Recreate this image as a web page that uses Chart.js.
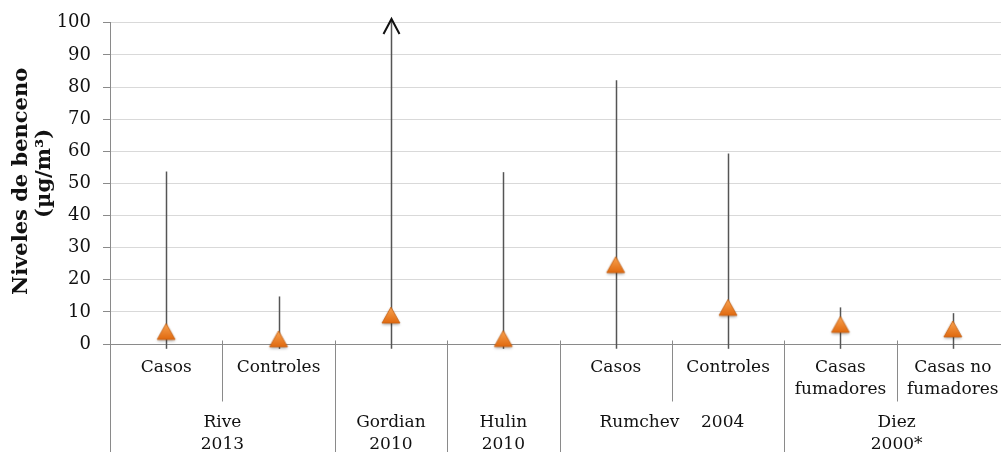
<!DOCTYPE html>
<html lang="es">
<head>
<meta charset="utf-8">
<title>Niveles de benceno</title>
<script src="https://cdn.jsdelivr.net/npm/chart.js@4.4.1/dist/chart.umd.min.js"></script>
<style>
  html, body { margin: 0; padding: 0; background: #ffffff; overflow: hidden; }
  canvas { display: block; background: #ffffff; }
</style>
</head>
<body>
<canvas id="chart" width="1009" height="452"></canvas>
<script>
// Study subgroups (first row of the category axis)
const categories = ['Casos', 'Controles', '', '', 'Casos', 'Controles', 'Casas\nfumadores', 'Casas no\nfumadores'];
// Studies (second row), each spanning a number of subgroups
const groupLabels = ['Rive\n2013', 'Gordian\n2010', 'Hulin\n2010', 'Rumchev    2004', 'Diez\n2000*'];
const groupSpans = [2, 1, 1, 2, 2];

// Benzene levels (µg/m³): central value, range high and range low
const central = [3.9, 1.6, 9.0, 1.7, 24.7, 11.4, 6.1, 4.7];
const high = [53.7, 14.8, 101.2, 53.5, 82.1, 59.3, 11.4, 9.6];
const low = [-1.5, -1.5, -1.5, -1.5, -1.5, -1.5, -1.5, -1.5];

const yTicks = [0, 10, 20, 30, 40, 50, 60, 70, 80, 90, 100];

const FONT = '"DejaVu Serif", "Liberation Serif", serif';
const TEXT = '#111111';
const AXIS = '#8a8a8a';
const GRID = '#d9d9d9';

// Shaded orange triangle marker
function triangleSprite() {
  const c = document.createElement('canvas');
  c.width = 26; c.height = 26;
  const g = c.getContext('2d');
  const w = 18, h = 16, cx = 13, cy = 13;
  g.shadowColor = 'rgba(0,0,0,0.35)';
  g.shadowBlur = 3;
  g.shadowOffsetY = 1.5;
  const grad = g.createLinearGradient(0, cy - h / 2, 0, cy + h / 2);
  grad.addColorStop(0, '#F9A452');
  grad.addColorStop(1, '#E0690F');
  g.beginPath();
  g.moveTo(cx, cy - h / 2);
  g.lineTo(cx + w / 2, cy + h / 2);
  g.lineTo(cx - w / 2, cy + h / 2);
  g.closePath();
  g.fillStyle = grad;
  g.fill();
  g.shadowColor = 'transparent';
  g.strokeStyle = '#C75E0E';
  g.lineWidth = 0.8;
  g.stroke();
  return c;
}

function seg(ctx, x1, y1, x2, y2) {
  ctx.beginPath();
  ctx.moveTo(x1, y1);
  ctx.lineTo(x2, y2);
  ctx.stroke();
}

// Multi-level category axis plus the high-low range lines
const rangeAxisPlugin = {
  id: 'rangeAxis',
  beforeDatasetsDraw(chart) {
    const { ctx, chartArea: ca, scales: { x, y } } = chart;
    const y0 = Math.round(y.getPixelForValue(0)) + 0.5;
    const bottom = chart.height;
    const half = (x.getPixelForValue(1) - x.getPixelForValue(0)) / 2;
    const edge = i => Math.round(x.getPixelForValue(i) - half) + 0.5;

    ctx.save();
    ctx.strokeStyle = AXIS;
    ctx.lineWidth = 1;
    seg(ctx, ca.left, y0, ca.right, y0);
    seg(ctx, Math.round(ca.left) + 0.5, y0, Math.round(ca.left) + 0.5, bottom);

    ctx.fillStyle = TEXT;
    ctx.textAlign = 'center';
    ctx.textBaseline = 'middle';
    ctx.font = '17px ' + FONT;

    // subgroup labels
    categories.forEach((lab, i) => {
      if (!lab) return;
      const cx = x.getPixelForValue(i);
      lab.split('\n').forEach((ln, k) => ctx.fillText(ln, cx, y0 + 23 + k * 22));
    });

    // study labels and separators
    let start = 0;
    groupLabels.forEach((lab, gi) => {
      const span = groupSpans[gi];
      seg(ctx, edge(start), y0 - 4, edge(start), bottom);
      for (let k = start + 1; k < start + span; k++) {
        seg(ctx, edge(k), y0 - 4, edge(k), y0 + 57);
      }
      const cx = (x.getPixelForValue(start) + x.getPixelForValue(start + span - 1)) / 2;
      lab.split('\n').forEach((ln, k) => ctx.fillText(ln, cx, y0 + 78 + k * 22));
      start += span;
    });
    seg(ctx, edge(start), y0 - 4, edge(start), bottom);

    // high-low range lines
    ctx.strokeStyle = '#555555';
    ctx.lineWidth = 1.5;
    high.forEach((hv, i) => {
      const px = Math.round(x.getPixelForValue(i)) + 0.5;
      const top = y.getPixelForValue(hv);
      seg(ctx, px, y.getPixelForValue(low[i]), px, top);
      if (hv > y.max) {
        // off-scale arrow head
        ctx.save();
        ctx.strokeStyle = '#111111';
        ctx.lineWidth = 2;
        ctx.beginPath();
        ctx.moveTo(px - 8, top + 15);
        ctx.lineTo(px, top);
        ctx.lineTo(px + 8, top + 15);
        ctx.stroke();
        ctx.restore();
      }
    });
    ctx.restore();
  },
  afterDraw(chart) {
    const { ctx, chartArea: ca } = chart;
    const cy = (ca.top + ca.bottom) / 2;
    ctx.save();
    ctx.fillStyle = TEXT;
    ctx.font = 'bold 21px ' + FONT;
    ctx.textAlign = 'center';
    ctx.textBaseline = 'middle';
    ctx.translate(22, cy - 2);
    ctx.rotate(-Math.PI / 2);
    ctx.fillText('Niveles de benceno', 0, 0);
    ctx.fillText('(µg/m³)', 8, 23);
    ctx.restore();
  }
};

new Chart(document.getElementById('chart'), {
  type: 'line',
  data: {
    labels: categories,
    datasets: [{
      data: central,
      showLine: false,
      pointStyle: triangleSprite(),
      pointRadius: 10,
      pointHoverRadius: 10,
      clip: false
    }]
  },
  options: {
    responsive: false,
    devicePixelRatio: 1,
    animation: false,
    events: [],
    layout: { autoPadding: false, padding: { top: 20, right: 0, left: 0, bottom: 0 } },
    plugins: { legend: { display: false }, tooltip: { enabled: false } },
    scales: {
      x: {
        type: 'category',
        offset: true,
        grid: { display: false },
        border: { display: false },
        ticks: { display: false },
        afterFit: s => { s.height = 108; }
      },
      y: {
        min: 0,
        max: 100,
        afterBuildTicks: s => { s.ticks = yTicks.map(v => ({ value: v })); },
        grid: { color: GRID, lineWidth: 1, tickLength: 7, tickColor: AXIS },
        border: { display: true, color: AXIS },
        ticks: {
          color: TEXT,
          padding: 12,
          font: { family: FONT, size: 18 }
        },
        afterFit: s => { s.width = 110; }
      }
    }
  },
  plugins: [rangeAxisPlugin]
});
</script>
</body>
</html>
